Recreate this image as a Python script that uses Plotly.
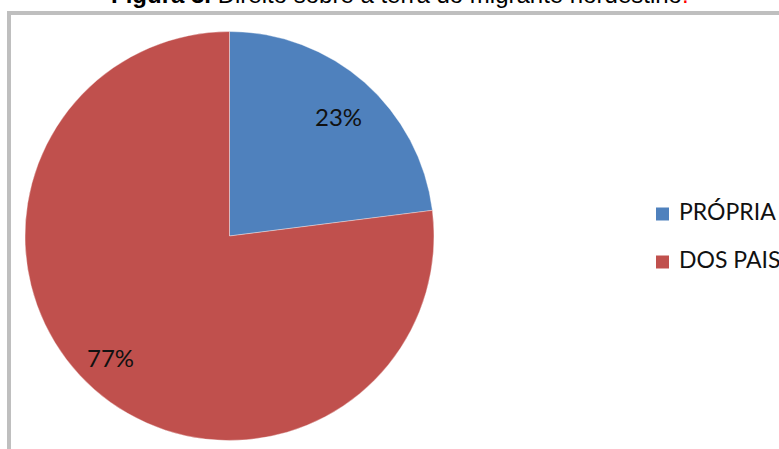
import math
import plotly.graph_objects as go

W, H = 779, 449

categories = ["PRÓPRIA", "DOS PAIS"]
values = [23, 77]
colors = ["#4F81BD", "#C0504D"]
title_bold = "Figura 3."
title_rest = " Direito sobre a terra do migrante nordestino"

# layout (pixels)
CX, CY, R = 229.5, 236.0, 204.5
LABEL_R = [0.79, 0.83]
LABEL_DANG = [1.0, 3.0]
LEG_X, LEG_Y0, LEG_DY, SQ = 662.5, 214.0, 48.0, 13.0


def px(x):
    return x / W


def py(y):
    return 1 - y / H


fig = go.Figure()
fig.add_trace(go.Pie(
    labels=categories,
    values=values,
    marker=dict(colors=colors, line=dict(color="rgba(255,255,255,0.6)", width=0.6)),
    sort=False,
    direction="clockwise",
    rotation=0,
    textinfo="none",
    hoverinfo="label+percent",
    showlegend=False,
    domain=dict(x=[px(CX - R), px(CX + R)], y=[py(CY + R), py(CY - R)]),
))

annotations = []
shapes = []
total = sum(values)
start = 0.0
for i, v in enumerate(values):
    frac = v / total
    mid = (start + frac / 2) * 2 * math.pi + math.radians(LABEL_DANG[i])
    start += frac
    lx = CX + LABEL_R[i] * R * math.sin(mid)
    ly = CY - LABEL_R[i] * R * math.cos(mid)
    annotations.append(dict(
        x=px(lx), y=py(ly), xref="paper", yref="paper",
        text=f"{round(frac * 100)}%", showarrow=False,
        font=dict(family="Lato", size=24, color="#111111"),
        xanchor="center", yanchor="middle",
    ))
    # legend
    ycen = LEG_Y0 + i * LEG_DY
    shapes.append(dict(
        type="rect", xref="paper", yref="paper",
        x0=px(LEG_X - SQ / 2), x1=px(LEG_X + SQ / 2),
        y0=py(ycen + SQ / 2), y1=py(ycen - SQ / 2),
        fillcolor=colors[i], line=dict(width=0),
    ))
    annotations.append(dict(
        x=px(LEG_X + SQ / 2 + 8), y=py(ycen - 3), xref="paper", yref="paper",
        text=categories[i], showarrow=False,
        font=dict(family="Lato", size=23, color="#111111"),
        xanchor="left", yanchor="middle",
    ))

# frame
shapes.append(dict(
    type="rect", xref="paper", yref="paper",
    x0=px(9), x1=px(W + 20), y0=py(H + 20), y1=py(13),
    line=dict(color="#BFBFBF", width=4), fillcolor="rgba(0,0,0,0)", layer="below",
))

# title (cut at the top, as in the reference)
annotations.append(dict(
    x=px(399.5), y=py(-5), xref="paper", yref="paper",
    text=f"<b>{title_bold}</b>{title_rest}<span style='color:#FF0000'>.</span>",
    showarrow=False,
    font=dict(family="Liberation Sans", size=24, color="#000000"),
    xanchor="center", yanchor="middle",
))

fig.update_layout(
    width=W, height=H,
    margin=dict(l=0, r=0, t=0, b=0),
    paper_bgcolor="white",
    plot_bgcolor="white",
    annotations=annotations,
    shapes=shapes,
    showlegend=False,
)

fig.write_html("out.html")
